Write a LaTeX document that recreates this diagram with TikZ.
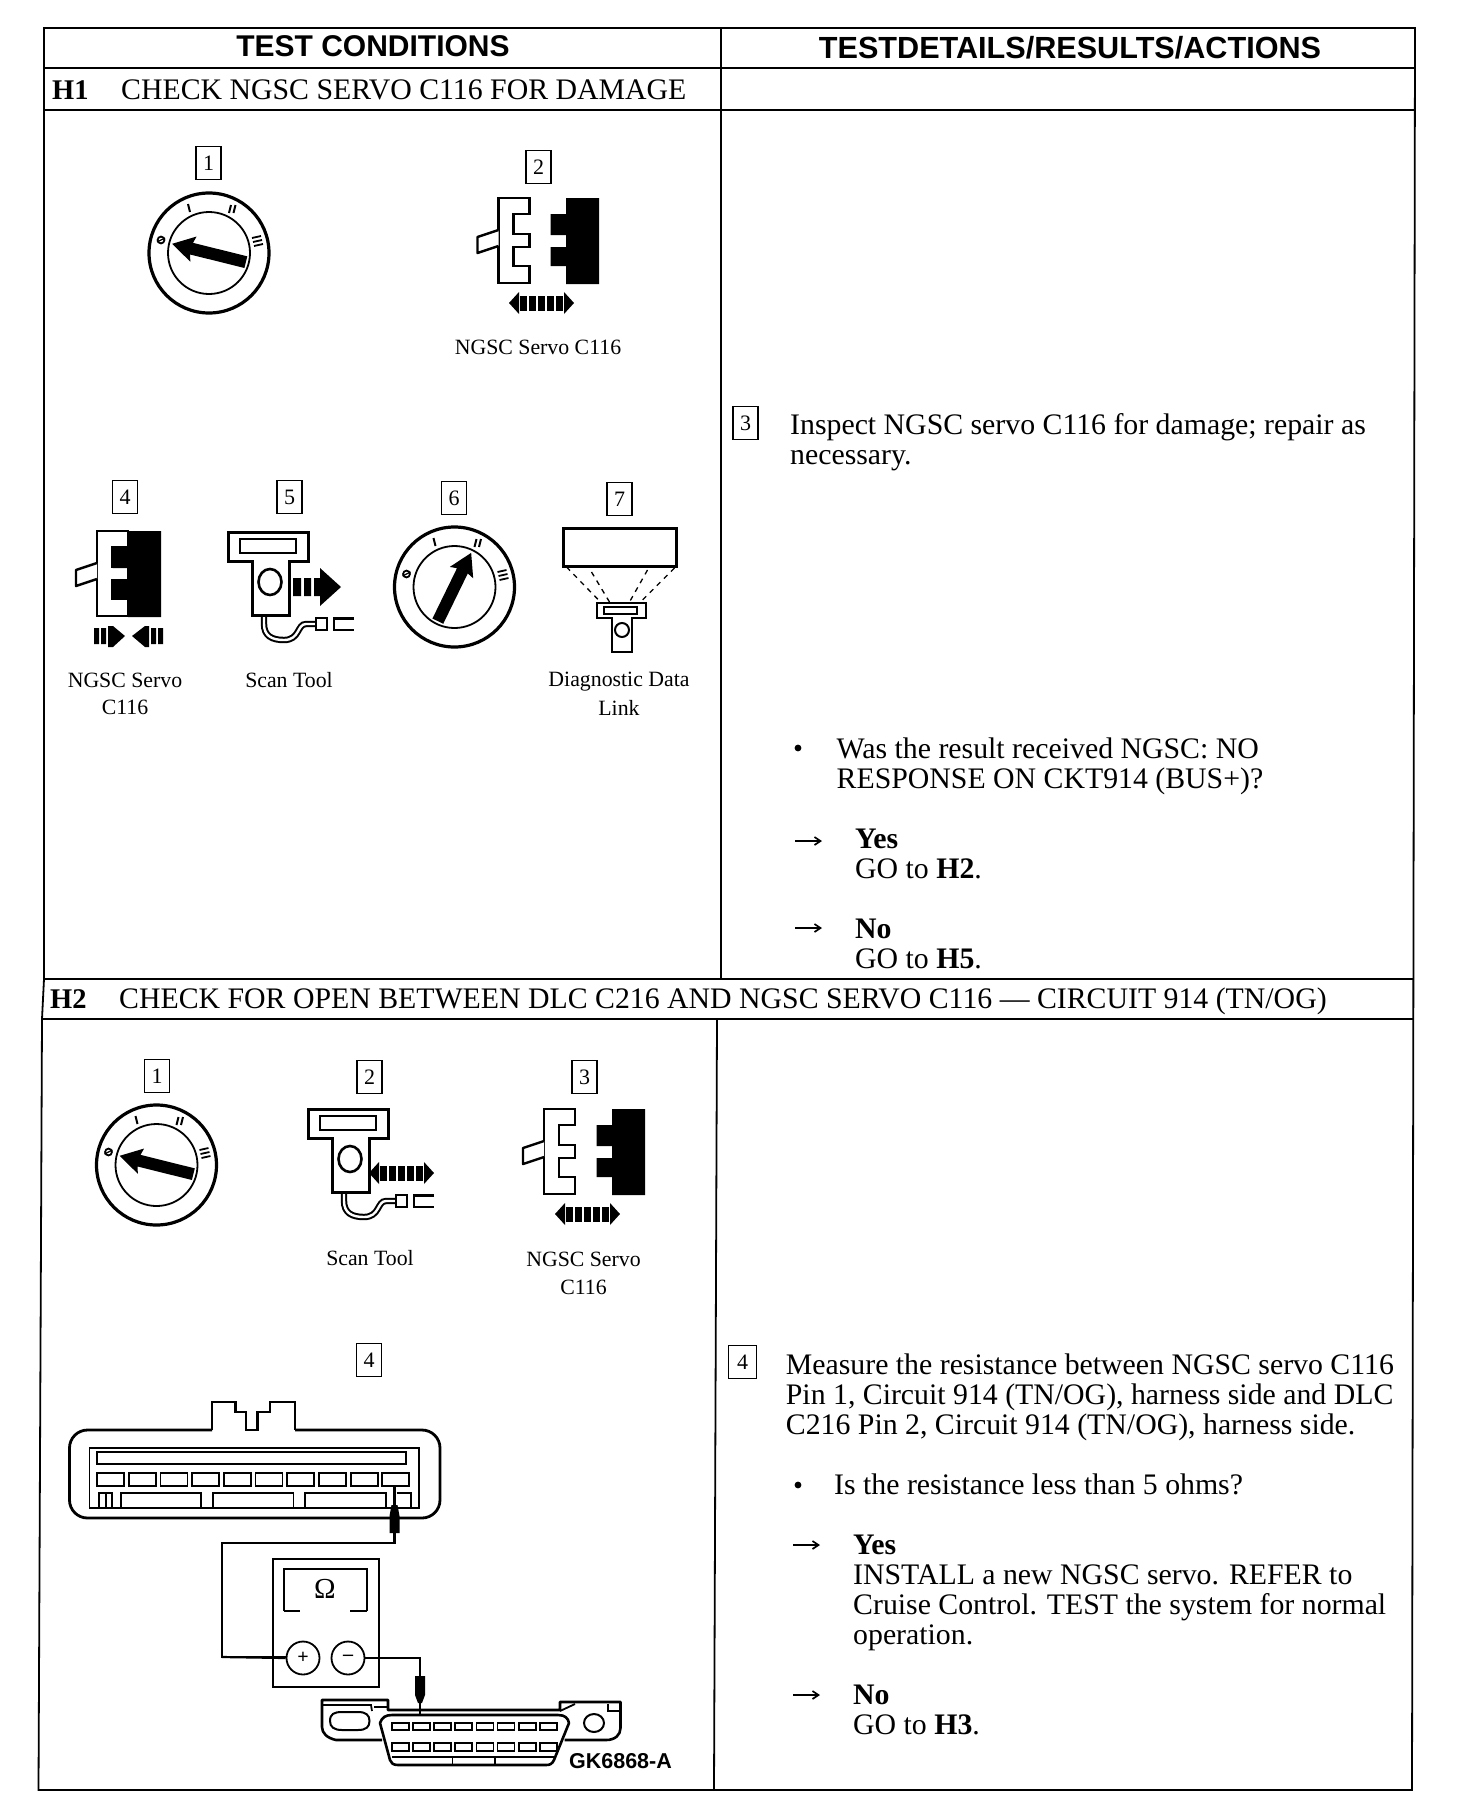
\documentclass[tikz,border=0pt]{standalone}
\usepackage{fontspec}
\usetikzlibrary{arrows.meta,shapes.geometric}
\setmainfont{Liberation Serif}
\setsansfont{Liberation Sans}
\newcommand{\bodyfs}{\fontsize{29.8}{30}\selectfont}
\newcommand{\capfs}{\fontsize{21.8}{22}\selectfont}
% ignition switch: centre x, y, arrow angle
\newcommand{\keyswitch}[3]{%
 \begin{scope}[shift={(#1,#2)}]
  \draw[line width=3.2] (0,0) circle[radius=60];
  \draw[line width=1.8] (0,0) circle[radius=41];
  \draw[line width=1.8] (-48,-13) circle[radius=3.4];
  \draw[line width=1.2] (-52,-11) -- (-44,-15);
  \draw[line width=2] (-21,-49) -- (-19,-41);
  \draw[line width=2] (20,-40) -- (22,-48) (24.5,-40) -- (26.5,-48);
  \draw[line width=1.8] (43,-15) -- (52,-17) (44,-11) -- (53,-13) (45,-7) -- (54,-9);
  \begin{scope}[rotate=#3]
   \fill (-38,-6) -- (18,-6) -- (16,-13) -- (38,0) -- (16,13) -- (18,6) -- (-38,6) -- cycle;
  \end{scope}
 \end{scope}}
% connector halves; origin = top-left of comb
\newcommand{\servocomb}[2]{%
 \begin{scope}[shift={(#1,#2)}]
  \draw[line width=2.6,fill=white] (0,0) -- (31,0) -- (31,16) -- (15,16) -- (15,36) -- (31,36) -- (31,49) -- (15,49) -- (15,68) -- (31,68) -- (31,85) -- (0,85) -- cycle;
  \draw[line width=2.4,line join=round,fill=white] (0,32) -- (-21,39) -- (-21,55) -- (0,48);
 \end{scope}}
\newcommand{\servoblack}[2]{%
 \begin{scope}[shift={(#1,#2)}]
  \fill (68,0) -- (101,0) -- (101,86) -- (68,86) -- (68,68) -- (52.5,68) -- (52.5,49) -- (68,49) -- (68,37) -- (52.5,37) -- (52.5,16) -- (68,16) -- cycle;
 \end{scope}}
% double arrow with bars: left x, centre y
\newcommand{\dblgrip}[2]{%
 \begin{scope}[shift={(#1,#2)}]
  \fill (0,0) -- (10,-11) -- (10,11) -- cycle;
  \fill (65,0) -- (55,-11) -- (55,11) -- cycle;
  \foreach \b in {11,20,29,38,47} \fill (\b,-7.5) rectangle (\b+6.5,7.5);
 \end{scope}}
% scan tool, drawn at its step-5 position and shifted
\newcommand{\scantool}[2]{%
 \begin{scope}[shift={(#1,#2)}]
  \draw[line width=6.4,line cap=butt] (264,615) -- (264,624) .. controls (264,636) and (272,640) .. (284,640) .. controls (300,640) and (297,624) .. (306,624) -- (316,624);
  \draw[line width=2.4,white] (264,614) -- (264,624) .. controls (264,636) and (272,640) .. (284,640) .. controls (300,640) and (297,624) .. (306,624) -- (316,624);
  \draw[line width=3,fill=white] (228,532) -- (308,532) -- (308,561) -- (289,561) -- (289,615) -- (252,615) -- (252,561) -- (228,561) -- cycle;
  \draw[line width=2.8] (240,539) rectangle (296,553);
  \draw[line width=2.6] (270,582) circle[x radius=11.5,y radius=13];
  \draw[line width=2.6] (316,618) rectangle (327,630);
  \draw[line width=2.8] (354,618.5) -- (334,618.5) -- (334,630) -- (354,630);
 \end{scope}}
\tikzset{
 rule/.style={line width=1.8},
 numbox/.style={draw,line width=1.6,minimum width=25,minimum height=33,inner sep=0,font=\fontsize{22}{22}\selectfont},
 bodytxt/.style={anchor=base west,inner sep=0,font=\bodyfs},
 captxt/.style={inner sep=0,font=\capfs},
 hdr/.style={inner sep=0,font=\fontsize{30}{32}\selectfont\sffamily\bfseries},
 pin/.style={line width=1.8},
 wire/.style={line width=2.2},
 dash1/.style={line width=1.3,dash pattern=on 5 off 5},
}
\newcommand{\goarrow}[2]{\draw[line width=1.7,-{Straight Barb[length=6,width=8]}] (#1,#2) -- (#1+27,#2);}
\newcommand{\blt}[2]{\fill (#1,#2) circle[radius=3.4];}
\begin{document}
\begin{tikzpicture}[x=1pt,y=-1pt]
\useasboundingbox (0,0) rectangle (1472,1812);
\fill[white] (0,0) rectangle (1472,1812);
% --- table rules
\draw[rule] (44,28) -- (1415,28) -- (1412,1790) -- (38.5,1790) -- (42,1019) -- (44,979) -- cycle;
\draw[rule] (44,68) -- (1415,68);
\draw[rule] (44,110) -- (1415,110);
\draw[rule] (43,979) -- (1414,979);
\draw[rule] (42,1019) -- (1414,1019);
\draw[rule] (721,28) -- (721,979);
\draw[rule] (717,1019) -- (714,1790);
% --- header text
\node[hdr] (hleft) at (373,46.5) {TEST CONDITIONS};
\node[hdr,font=\fontsize{30.6}{32}\selectfont\sffamily\bfseries] (hright) at (1070,47.5) {TESTDETAILS/RESULTS/ACTIONS};
\node[bodytxt,font=\fontsize{28.5}{30}\selectfont\bfseries] (hone) at (52,99) {H1};
\node[bodytxt] (honet) at (121,99) {CHECK NGSC SERVO C116 FOR DAMAGE};
\node[bodytxt,font=\fontsize{28.5}{30}\selectfont\bfseries] (htwo) at (50,1008) {H2};
\node[bodytxt] (htwot) at (119,1008) {CHECK FOR OPEN BETWEEN DLC C216 AND NGSC SERVO C116 --- CIRCUIT 914 (TN/OG)};
% --- H1 step numbers
\node[numbox] (a1) at (208.5,163) {1};
\node[numbox] (a2) at (538.5,167) {2};
\node[numbox] (a4) at (125,497) {4};
\node[numbox] (a5) at (289.5,497) {5};
\node[numbox] (a6) at (454,498) {6};
\node[numbox] (a7) at (619.5,499) {7};
\node[numbox] (a3) at (745.5,423) {3};
% --- H1 figures
\keyswitch{209}{253}{166}
\servocomb{498.5}{198}
\servoblack{498}{198}
\dblgrip{509}{303}
\node[captxt] (c2) at (538,347) {NGSC Servo C116};
\servocomb{97}{531}
\servoblack{60}{531}
\fill (94,628) rectangle (99,644) (101,628) rectangle (106,644);
\fill (108,626) -- (113,626) -- (125,636) -- (113,647) -- (108,647) -- cycle;
\fill (163,628) rectangle (158,644) (156,628) rectangle (151,644);
\fill (149,626) -- (145,626) -- (132,636) -- (145,647) -- (149,647) -- cycle;
\node[captxt] (c4a) at (125,680) {NGSC Servo};
\node[captxt] (c4b) at (125,707) {C116};
\scantool{0}{0}
\fill (293,578) rectangle (301,596) (304,578) rectangle (311,596) (314,578) rectangle (320,596);
\fill (320,568) -- (341,587) -- (320,606) -- cycle;
\node[captxt] (c5) at (289,680) {Scan Tool};
\keyswitch{454.5}{587}{64}
\draw[line width=3] (563.5,528) rectangle (676.5,566);
\draw[dash1] (566.5,567) -- (600.5,602);
\draw[dash1] (591.5,572) -- (609.5,602);
\draw[dash1] (647.5,570) -- (629.5,602);
\draw[dash1] (674.5,568) -- (640.5,602);
\draw[line width=2.6,fill=white] (597,603) -- (646,603) -- (646,618) -- (632,618) -- (632,652) -- (612,652) -- (612,618) -- (597,618) -- cycle;
\draw[line width=2.2] (604,607) rectangle (637,614);
\draw[line width=2] (622,630) circle[radius=7];
\node[captxt] (c7a) at (619,682) {Diagnostic Data};
\node[captxt] (c7b) at (619,708) {Link};
% --- H1 text
\node[bodytxt] (t1) at (790,434) {Inspect NGSC servo C116 for damage; repair as};
\node[bodytxt] (t2) at (790,464) {necessary.};
\blt{798}{748}
\node[bodytxt] (t3) at (836.5,758) {Was the result received NGSC: NO};
\node[bodytxt] (t4) at (836.5,788) {RESPONSE ON CKT914 (BUS+)?};
\goarrow{795}{841}
\node[bodytxt,font=\bodyfs\bfseries] (t5) at (855,848) {Yes};
\node[bodytxt] (t6) at (855,878) {GO to \textbf{H2}.};
\goarrow{795}{928}
\node[bodytxt,font=\bodyfs\bfseries] (t7) at (855,938) {No};
\node[bodytxt] (t8) at (855,968) {GO to \textbf{H5}.};
% --- H2 step numbers
\node[numbox] (b1) at (157,1076) {1};
\node[numbox] (b2) at (369.5,1077) {2};
\node[numbox] (b3) at (584.5,1077) {3};
\node[numbox] (b4) at (369,1360) {4};
\node[numbox,minimum width=28] (b5) at (742.5,1362) {4};
% --- H2 figures
\keyswitch{156.5}{1165}{166}
\scantool{80}{577}
\dblgrip{369}{1173}
\node[captxt] (d2) at (370,1258) {Scan Tool};
\servocomb{544}{1109}
\servoblack{544}{1109}
\dblgrip{555}{1214}
\node[captxt] (d3a) at (583.5,1259) {NGSC Servo};
\node[captxt] (d3b) at (583.5,1287) {C116};
% big connector
\draw[line width=2.8,rounded corners=18] (212,1430) -- (69.5,1430) -- (69.5,1518) -- (440,1518) -- (440,1430) -- (295,1430);
\draw[line width=2.8] (212,1430) -- (212,1402) -- (235.5,1402) -- (235.5,1412) -- (246,1412) -- (246,1430) -- (257.5,1430) -- (257.5,1412) -- (270,1412) -- (270,1402) -- (295,1402) -- (295,1430);
\draw[pin] (89.5,1508) -- (89.5,1448) -- (419,1448) -- (419,1508) -- cycle;
\draw[line width=1.2] (97,1452) -- (406,1452) -- (406,1464) -- (97,1464) -- cycle;
\foreach \i in {0,...,9} \draw[pin] (97+31.7*\i,1473) rectangle +(27,13);
\draw[pin] (99,1508) -- (99,1493) -- (112,1493) -- (112,1508) (106,1493) -- (106,1508);
\draw[pin] (121,1508) -- (121,1493) -- (201,1493) -- (201,1508);
\draw[pin] (213,1508) -- (213,1493) -- (293.5,1493) -- (293.5,1508);
\draw[pin] (305,1508) -- (305,1493) -- (386,1493) -- (386,1508);
\draw[pin] (396.5,1493) -- (411,1493) -- (411,1508);
% first probe
\coordinate (pa) at (394.5,1486);
\draw[wire] (pa) -- (394.5,1543) -- (222,1543) -- (222,1657) -- (287,1657);
\fill (391.5,1505) -- (397.5,1505) -- (399.5,1516) -- (399.5,1533) -- (389.5,1533) -- (389.5,1516) -- cycle;
% meter
\draw[line width=2.4] (273,1559) rectangle (379,1687);
\draw[line width=1.5] (284,1611) -- (284,1569) -- (367,1569) -- (367,1611) (284,1611) -- (300,1611) (350,1611) -- (367,1611);
\node[inner sep=0,font=\fontsize{29}{29}\selectfont] (ohm) at (325,1589) {\symbol{"03A9}};
\node[draw,ellipse,line width=1.8,minimum width=33,minimum height=33,inner sep=0,font=\fontsize{20}{20}\selectfont\bfseries] (plus) at (303,1658) {+};
\node[draw,ellipse,line width=1.8,minimum width=33,minimum height=33,inner sep=0,font=\fontsize{20}{20}\selectfont\bfseries] (minus) at (348,1658) {--};
\draw[wire] (222,1657) -- (plus.west);
\coordinate (pb) at (420,1720);
\draw[wire] (minus.east) -- (420,1658) -- (pb);
\fill (415,1676) -- (425,1676) -- (425,1695) -- (422,1703) -- (418,1703) -- (415,1695) -- cycle;
% DLC
\draw[line width=2.6,line join=round] (382,1740) -- (336,1740) .. controls (327,1738) and (322,1733) .. (322,1727) -- (322,1700) -- (388,1700) -- (388,1710) -- (560,1710) -- (560,1702) -- (620.5,1702) -- (620.5,1728) .. controls (620.5,1735) and (615,1740) .. (606,1740) -- (564.5,1740);
\draw[line width=2.6,fill=white,line join=round] (380,1723) .. controls (382,1717) and (386,1715) .. (392,1715) -- (558,1715) .. controls (565,1715) and (568,1718) .. (569,1723) -- (554,1760) .. controls (552,1764) and (550,1765) .. (546,1765) -- (398,1765) .. controls (393,1765) and (391,1763) .. (390,1760) -- cycle;
\draw[line width=2] (330,1721) .. controls (330,1714) and (334,1712) .. (342,1712) -- (358,1712) .. controls (366,1712) and (369.5,1715) .. (369.5,1721) .. controls (369.5,1727) and (366,1730) .. (358,1730) -- (342,1730) .. controls (334,1730) and (330,1727) .. (330,1721) -- cycle;
\draw[line width=2] (594,1723) circle[x radius=10,y radius=9];
\draw[line width=1.8] (322,1705) -- (371,1705) -- (372,1711) (374,1707) -- (388,1707) (560,1711) -- (575,1704) (608,1704) -- (608,1711) -- (620,1711);
\foreach \i in {0,...,7} {\draw[pin] (392+21.1*\i,1723) rectangle +(17,7);
 \draw[pin] (392+21.1*\i,1743) rectangle +(17,8);}
\draw[line width=1.4] (392,1757) -- (554,1757) (452.5,1757) -- (452.5,1765) (495,1757) -- (495,1765);
\node[inner sep=0,font=\fontsize{21.5}{22}\selectfont\sffamily\bfseries] (gk) at (620.5,1761) {GK6868-A};
% --- H2 text
\node[bodytxt] (u1) at (785.7,1374) {Measure the resistance between NGSC servo C116};
\node[bodytxt] (u2) at (785.7,1404) {Pin 1, Circuit 914 (TN/OG), harness side and DLC};
\node[bodytxt] (u3) at (785.7,1434) {C216 Pin 2, Circuit 914 (TN/OG), harness side.};
\blt{798}{1485}
\node[bodytxt] (u4) at (834,1494) {Is the resistance less than 5 ohms?};
\goarrow{793}{1545}
\node[bodytxt,font=\bodyfs\bfseries] (u5) at (853,1554) {Yes};
\node[bodytxt] (u6) at (853,1584) {INSTALL a new NGSC servo. REFER to};
\node[bodytxt] (u7) at (853,1614) {Cruise Control. TEST the system for normal};
\node[bodytxt] (u8) at (853,1644) {operation.};
\goarrow{793}{1695}
\node[bodytxt,font=\bodyfs\bfseries] (u9) at (853,1704) {No};
\node[bodytxt] (u10) at (853,1734) {GO to \textbf{H3}.};
\end{tikzpicture}
\end{document}
